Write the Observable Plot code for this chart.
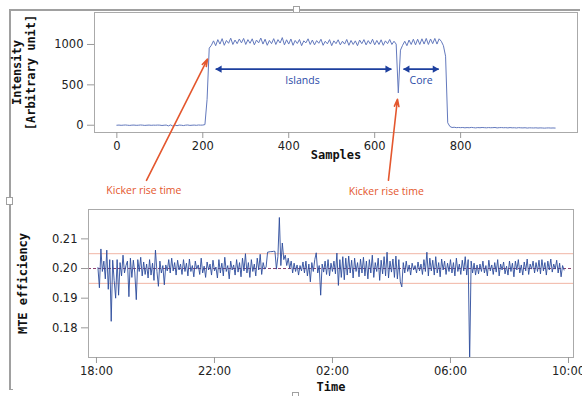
<!DOCTYPE html>
<html><head><meta charset="utf-8">
<script src="https://cdn.jsdelivr.net/npm/d3@7"></script>
<script src="https://cdn.jsdelivr.net/npm/@observablehq/plot@0.6"></script>
<style>
html,body{margin:0;padding:0;background:#fff;}
#wrap{position:relative;width:582px;height:396px;overflow:hidden;background:#fff;}
.pl{position:absolute;left:0;}
.deco{position:absolute;background:#a0a0a0;}
.hdl{position:absolute;background:#fff;border:1px solid #a0a0a0;box-sizing:border-box;}
</style></head><body>
<div id="wrap">
  <div class="deco" style="left:9px;top:9px;width:1.5px;height:381px;"></div>
  <div class="deco" style="left:9px;top:9px;width:571px;height:1.5px;"></div>
  <div class="deco" style="left:9px;top:388.5px;width:4px;height:1.5px;"></div>
  <div class="hdl" style="left:293px;top:6px;width:7px;height:7px;"></div>
  <div class="hdl" style="left:6px;top:197px;width:7px;height:8px;"></div>
  <div class="hdl" style="left:292px;top:392px;width:7px;height:6px;"></div>
  <div id="top" class="pl" style="top:0px;"></div>
  <div id="bot" class="pl" style="top:200px;"></div>
</div>
<script>
// ---------- top panel data: intensity vs samples (one value every 5 samples) ----------
const sampleStep = 5;
const intensity = [
  0,2,-1,1,3,0,-2,1,2,-1,0,3,1,-2,0,2,-1,1,0,2,
  1,-3,0,2,-8,4,-10,3,-6,2,0,-4,1,3,-2,0,2,-1,3,1,
  2,8,320,955,990,1045,985,1060,1005,1072,990,1050,1015,1078,1000,1055,1010,1068,1020,1075,
  1000,1060,1015,1070,995,1055,1020,1080,1005,1065,990,1050,1010,1072,1000,1060,1018,1085,995,1058,
  1005,1068,990,1050,1012,1062,985,1045,1020,1070,1000,1055,995,1048,1015,1065,990,1040,1008,1060,
  985,1045,1010,1058,995,1040,1005,1062,990,1050,1000,1045,985,1055,1010,1060,995,1048,1005,1065,
  995,1050,1000,1058,990,1045,1010,1062,1000,1040,1005,400,930,990,1040,985,1055,1000,1065,995,
  1065,1000,1070,1005,1075,1000,1068,1010,1075,1005,1070,1040,985,855,30,-15,-28,-25,-30,-28,
  -30,-28,-32,-29,-31,-27,-30,-33,-29,-31,-28,-30,-32,-29,-31,-30,-28,-33,-30,-29,
  -31,-30,-33,-29,-32,-31,-34,-30,-32,-33,-31,-35,-32,-33,-34,-32,-35,-33,-34,-36,
  -34,-33,-35,-34,-35
];
const xTicksTop = [0, 200, 400, 600, 800];
const yTicksTop = [0, 500, 1000];

// annotations (in data units of the top panel)
const kickerLabels = [
  {s: 63, v: -805, text: "Kicker rise time"},
  {s: 627, v: -818, text: "Kicker rise time"}
];
const kickerArrows = [
  {s1: 69, v1: -682, s2: 211, v2: 818},
  {s1: 632, v1: -682, s2: 653, v2: 322}
];
const spans = [
  {name: "Islands", from: 230, to: 639, textAt: 432},
  {name: "Core", from: 667, to: 749, textAt: 708}
];
const spanLevel = 694, spanTextLevel = 558;

// ---------- bottom panel data: MTE efficiency vs time (hours after 18:00, every 0.05 h) ----------
const timeStart = 0.05, timeStep = 0.05;
const efficiency = [
  0.2003,0.1935,0.2066,0.1990,0.2025,0.1965,0.2062,0.1930,0.2030,0.1822,0.2028,0.1960,0.1900,0.2030,0.1910,0.2020,0.1975,0.2045,0.1985,0.2010,
  0.2025,0.1905,0.2035,0.1970,0.2028,0.1985,0.1895,0.2030,0.1990,0.2038,0.1975,0.2022,0.1980,0.2015,0.1968,0.2030,0.1978,0.2018,0.1960,0.2062,
  0.1990,0.1940,0.2025,0.1985,0.2010,0.1945,0.2012,0.1992,0.2030,0.1985,0.2035,0.1992,0.2020,0.1978,0.2028,0.1995,0.2015,0.1980,0.2030,0.1990,
  0.2018,0.1975,0.2032,0.1990,0.2010,0.1972,0.2025,0.1998,0.2012,0.1980,0.2035,0.1985,0.2008,0.1970,0.2022,0.1995,0.2015,0.1978,0.2028,0.1992,
  0.2005,0.1968,0.2030,0.1985,0.2018,0.1975,0.2038,0.1990,0.2010,0.1965,0.2025,0.1995,0.2012,0.1978,0.2030,0.1988,0.2020,0.1972,0.2035,0.1992,
  0.2050,0.1985,0.2020,0.1970,0.2030,0.1990,0.2015,0.1975,0.2035,0.1995,0.2048,0.1980,0.2020,0.1998,0.2005,0.2055,0.2056,0.2057,0.2057,0.2058,
  0.2058,0.1998,0.2040,0.2172,0.2010,0.2086,0.2030,0.2045,0.2010,0.2035,0.2000,0.2025,0.1985,0.2018,0.1990,0.2012,0.1978,0.2010,0.1992,0.2022,
  0.1985,0.2025,0.1975,0.2015,0.1955,0.2020,0.1990,0.2030,0.2053,0.1985,0.2010,0.1910,0.2015,0.1988,0.2025,0.1980,0.2030,0.1975,0.2018,0.1990,
  0.2025,0.1982,0.2052,0.1943,0.2030,0.1970,0.2040,0.1962,0.2035,0.1978,0.2042,0.1985,0.2028,0.1968,0.2035,0.1990,0.2020,0.1972,0.2032,0.1985,
  0.2038,0.1975,0.2025,0.1965,0.2030,0.1985,0.2045,0.1970,0.2020,0.1990,0.2035,0.1960,0.2028,0.1982,0.2040,0.1975,0.2055,0.1968,0.2025,0.1988,
  0.2032,0.1970,0.2042,0.1965,0.2030,0.1955,0.1938,0.2020,0.1985,0.2025,0.1990,0.2012,0.1978,0.2018,0.1995,0.2010,0.1985,0.2022,0.1992,0.2015,
  0.1980,0.2030,0.1990,0.2055,0.1975,0.2035,0.1992,0.2028,0.1978,0.2040,0.1985,0.2020,0.1972,0.2032,0.1995,0.2025,0.1980,0.2018,0.1990,0.2030,
  0.1985,0.2020,0.1975,0.2035,0.1990,0.2015,0.1980,0.2028,0.1992,0.2040,0.1978,0.2030,0.1690,0.2025,0.1985,0.2018,0.1978,0.2012,0.1982,0.2015,
  0.1990,0.2025,0.1985,0.2010,0.1975,0.2028,0.1992,0.2012,0.1980,0.2020,0.1988,0.2030,0.1975,0.2015,0.1995,0.2022,0.1982,0.2008,0.1978,0.2025,
  0.1990,0.2018,0.1972,0.2025,0.1995,0.2030,0.1985,0.2012,0.1978,0.2022,0.1992,0.2032,0.1980,0.2015,0.1998,0.2025,0.1985,0.2020,0.1990,0.2028,
  0.1982,0.2030,0.1992,0.2020,0.1978,0.2025,0.1995,0.2032,0.1988,0.2015,0.1998,0.2028,0.1985,0.2018,0.1972,0.2010,0.1995
];
const xTicksBot = [0, 4, 8, 12, 16];
const xTickLabelsBot = ["18:00", "22:00", "02:00", "06:00", "10:00"];
const yTicksBot = [0.18, 0.19, 0.20, 0.21];
const refLevel = 0.200, bandLevels = [0.195, 0.205];

// ---------- build ----------
const topData = intensity.map((v, i) => ({s: i * sampleStep, v}));
const botData = efficiency.map((e, i) => ({t: timeStart + i * timeStep, e}));

const tickFont = {fontFamily: "DejaVu Sans", fontSize: "11.5px", color: "#222", background: "transparent", overflow: "visible"};
const labelOpts = {fontFamily: "DejaVu Sans Mono", fontWeight: "bold", fontSize: 12, fill: "#111"};
const annFont = "Open Sans";
const orange = "#e4572e", blueArrow = "#1d3f9e", blueText = "#2a4ba8";

const spanHalves = spans.map(d => ({x1: d.from, x2: d.to}));
const heads = spans.flatMap(d => [{x: d.from + 9, rot: -90}, {x: d.to - 9, rot: 90}]);

const topPlot = Plot.plot({
  width: 582, height: 200,
  marginLeft: 94, marginRight: 5, marginTop: 12, marginBottom: 68,
  x: {domain: [-52, 1072]},
  y: {domain: [-90, 1396]},
  style: tickFont,
  marks: [
    Plot.frame({stroke: "#aaa"}),
    Plot.axisY({ticks: yTicksTop, tickFormat: d => String(d), tickSize: 7, tickPadding: 4, stroke: "#999", fill: "#222", label: null}),
    Plot.axisX({ticks: xTicksTop, tickFormat: d => String(d), tickSize: 6, tickPadding: 3, stroke: "#999", fill: "#222", label: null}),
    Plot.line(topData, {x: "s", y: "v", stroke: "#6379bd", strokeWidth: 1}),
    Plot.link(spanHalves, {x1: "x1", x2: "x2", y1: spanLevel, y2: spanLevel, stroke: blueArrow, strokeWidth: 1.8}),
    Plot.dot(heads, {x: "x", y: spanLevel, symbol: "triangle", rotate: "rot", r: 2.7, fill: blueArrow, stroke: "none"}),
    Plot.text(spans, {x: "textAt", y: spanTextLevel, text: "name", fill: blueText, fontFamily: annFont, fontSize: 10.5}),
    Plot.arrow(kickerArrows, {x1: "s1", y1: "v1", x2: "s2", y2: "v2", stroke: orange, strokeWidth: 1.6, headLength: 7, headAngle: 35}),
    Plot.text(kickerLabels, {x: "s", y: "v", text: "text", fill: orange, fontFamily: annFont, fontSize: 10.5}),
    Plot.text(["Samples"], {text: d => d, frameAnchor: "bottom", dy: 26, ...labelOpts}),
    Plot.text(["Intensity\n[Arbitrary unit]"], {text: d => d, frameAnchor: "left", dx: -71, rotate: -90, textAnchor: "middle", lineHeight: 1.17, ...labelOpts})
  ]
});
document.getElementById("top").appendChild(topPlot);

const botPlot = Plot.plot({
  width: 582, height: 196,
  marginLeft: 88, marginRight: 9, marginTop: 9, marginBottom: 39,
  x: {domain: [-0.27, 16.17]},
  y: {domain: [0.1700, 0.2199]},
  style: tickFont,
  marks: [
    Plot.ruleY(bandLevels, {stroke: "#f1b5a5", strokeWidth: 1}),
    Plot.ruleY([refLevel], {stroke: "#8a3f6e", strokeWidth: 1, strokeDasharray: "3,2"}),
    Plot.line(botData, {x: "t", y: "e", stroke: "#2d4c9c", strokeWidth: 0.9, clip: true}),
    Plot.frame({stroke: "#aaa"}),
    Plot.axisY({ticks: yTicksBot, tickFormat: d3.format(".2f"), tickSize: 7, tickPadding: 4, stroke: "#999", fill: "#222", label: null}),
    Plot.axisX({ticks: xTicksBot, tickFormat: d => xTickLabelsBot[xTicksBot.indexOf(d)], tickSize: 6, tickPadding: 3, stroke: "#999", fill: "#222", label: null}),
    Plot.text(["Time"], {text: d => d, frameAnchor: "bottom", dy: 33, ...labelOpts}),
    Plot.text(["MTE efficiency"], {text: d => d, frameAnchor: "left", dx: -65, rotate: -90, textAnchor: "middle", ...labelOpts})
  ]
});
document.getElementById("bot").appendChild(botPlot);
</script>
</body></html>
